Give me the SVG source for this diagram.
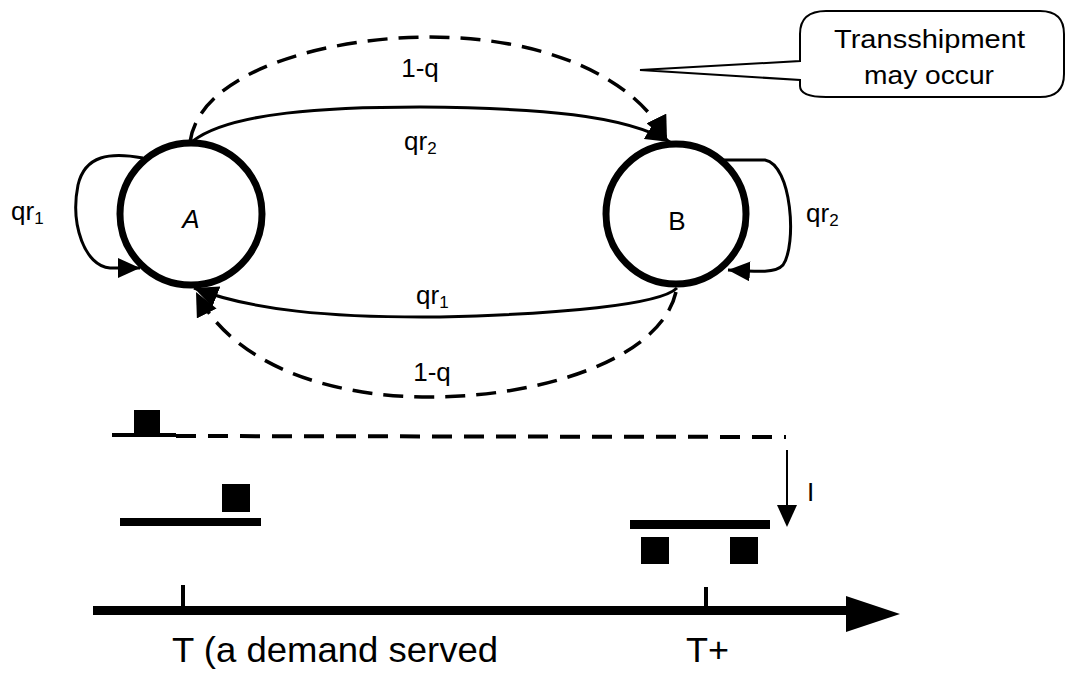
<svg xmlns="http://www.w3.org/2000/svg" width="1067" height="673" viewBox="0 0 1067 673">
  <style>
    .lbl { font-family: "Liberation Sans", "DejaVu Sans", sans-serif; font-size: 26px; fill: #000; }
    .big { font-family: "Liberation Sans", "DejaVu Sans", sans-serif; font-size: 35px; fill: #000; }
    .node { fill: #fff; stroke: #000; stroke-width: 7; }
    .edge { fill: none; stroke: #000; stroke-width: 3; }
    .dash { stroke-dasharray: 20 11; stroke-width: 3.5; }
    .blk { fill: #000; }
  </style>
  <defs>
    <marker id="head" markerUnits="userSpaceOnUse" markerWidth="26" markerHeight="22" refX="24" refY="11" orient="auto">
      <path d="M0,0 L24,11 L0,22 Z" fill="#000"/>
    </marker>
    <marker id="headSmall" markerUnits="userSpaceOnUse" markerWidth="24" markerHeight="20" refX="22" refY="10" orient="auto">
      <path d="M0,0 L22,10 L0,20 Z" fill="#000"/>
    </marker>
  </defs>

  <!-- transitions between the two locations -->
  <g id="connectors">
    <path class="edge dash" d="M190,142 C200,70 330,37 430,37 C540,37 635,75 667,140" marker-end="url(#head)"/>
    <path class="edge" d="M193,141 C230,112 330,107 420,107 C540,108 625,115 670,142" marker-end="url(#head)"/>
    <path class="edge" d="M677,288 C660,305 560,314 440,317 C330,318 250,310 194,288" marker-end="url(#head)"/>
    <path class="edge dash" d="M676,292 C660,360 540,397 430,397 C320,397 230,360 196,292" marker-end="url(#head)"/>
    <path class="edge" d="M143,158 C110,152 85,155 78,185 C70,225 85,266 110,268 L140,268" marker-end="url(#headSmall)"/>
    <path class="edge" d="M722,160 L765,160 C792,165 797,245 783,265 C776,273 760,272 728,270" marker-end="url(#headSmall)"/>
  </g>

  <g id="edge-labels">
    <text class="lbl" x="420" y="77" text-anchor="middle">1-q</text>
    <text class="lbl" x="404" y="150">qr<tspan font-size="17" dy="4">2</tspan></text>
    <text class="lbl" x="416" y="304">qr<tspan font-size="17" dy="4">1</tspan></text>
    <text class="lbl" x="432" y="381" text-anchor="middle">1-q</text>
    <text class="lbl" x="11" y="220">qr<tspan font-size="17" dy="4">1</tspan></text>
    <text class="lbl" x="806" y="222">qr<tspan font-size="17" dy="4">2</tspan></text>
  </g>

  <g id="node-A">
    <circle class="node" cx="191" cy="214" r="71"/>
    <text class="lbl" x="191" y="228" text-anchor="middle" font-size="33" font-style="italic">A</text>
  </g>
  <g id="node-B">
    <circle class="node" cx="676" cy="214" r="70"/>
    <text class="lbl" x="677" y="230" text-anchor="middle" font-size="32">B</text>
  </g>

  <g id="callout">
    <path d="M640,70 L800,61 L800,34 Q800,11 826,11 L1040,11 Q1064,11 1064,34 L1064,74 Q1064,97 1040,97 L826,97 Q800,97 800,86 L800,80 Z" fill="#fff" stroke="#000" stroke-width="2"/>
    <text class="lbl" x="834" y="48" textLength="191" lengthAdjust="spacingAndGlyphs">Transshipment</text>
    <text class="lbl" x="864" y="84" textLength="130" lengthAdjust="spacingAndGlyphs">may occur</text>
  </g>

  <!-- timeline of demands -->
  <g id="timeline">
    <rect class="blk" x="134" y="410" width="26" height="27"/>
    <line x1="112" y1="435" x2="176" y2="435" stroke="#000" stroke-width="4"/>
    <line x1="176" y1="436" x2="786" y2="437" stroke="#000" stroke-width="4" stroke-dasharray="20 12"/>
    <line x1="787" y1="450" x2="787" y2="508" stroke="#000" stroke-width="2"/>
    <path class="blk" d="M777,505 L797,505 L787,527 Z"/>
    <text class="lbl" x="807" y="501" font-size="34">I</text>

    <rect class="blk" x="222" y="484" width="28" height="28"/>
    <rect class="blk" x="120" y="518" width="141" height="8"/>

    <rect class="blk" x="630" y="520" width="140" height="9"/>
    <rect class="blk" x="641" y="537" width="28" height="27"/>
    <rect class="blk" x="730" y="537" width="28" height="27"/>

    <rect class="blk" x="93" y="606" width="760" height="9"/>
    <path class="blk" d="M846,596 L900,614 L846,632 Z"/>
    <rect class="blk" x="181" y="585" width="4" height="24"/>
    <rect class="blk" x="704" y="587" width="4" height="22"/>
    <text class="big" x="172" y="662" textLength="326" lengthAdjust="spacingAndGlyphs">T (a demand served</text>
    <text class="big" x="686" y="662" textLength="43" lengthAdjust="spacingAndGlyphs">T+</text>
  </g>
</svg>
